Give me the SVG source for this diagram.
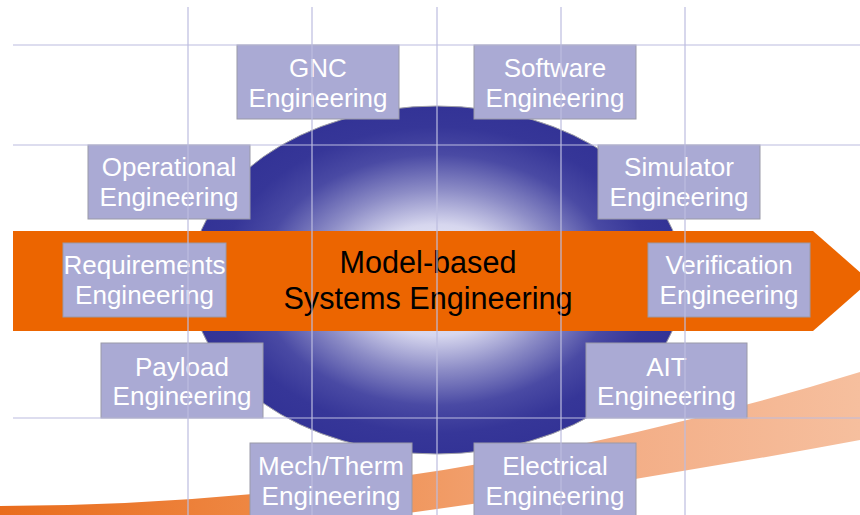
<svg xmlns="http://www.w3.org/2000/svg" width="860" height="515" viewBox="0 0 860 515">
<style>
.box rect{fill:#aaaad4;stroke:#9a9aa8;stroke-width:1}
.box text{fill:#ffffff;font-family:"Liberation Sans",Arial,sans-serif;font-size:26px;text-anchor:middle}
.grid line{stroke:#bcbce0;stroke-width:1.2}
.center{fill:#000000;font-family:"Liberation Sans",Arial,sans-serif;font-size:30.6px;text-anchor:middle}
</style>
<defs>
<radialGradient id="sph" cx="0.5" cy="0.5" r="0.5">
<stop offset="0" stop-color="#ffffff"/>
<stop offset="0.32" stop-color="#d6d6ee"/>
<stop offset="0.52" stop-color="#8c8cc6"/>
<stop offset="0.72" stop-color="#4a4aa4"/>
<stop offset="0.88" stop-color="#363698"/>
<stop offset="1" stop-color="#333396"/>
</radialGradient>
<linearGradient id="sw" x1="0" y1="0" x2="1" y2="0">
<stop offset="0" stop-color="#e96c1c"/>
<stop offset="0.35" stop-color="#ef8c4a"/>
<stop offset="0.7" stop-color="#f3ac84"/>
<stop offset="1" stop-color="#f6bf9e"/>
</linearGradient>
</defs>
<rect x="0" y="0" width="860" height="515" fill="#ffffff"/>
<g id="swoosh">
<path d="M0,506 Q430,505 860,372 L860,440 Q430,520 0,560 Z" fill="url(#sw)"/>
</g>
<g id="sphere">
<ellipse cx="437" cy="280" rx="246" ry="174" fill="url(#sph)" stroke="#a0a0a8" stroke-width="1"/>
</g>
<g id="arrow">
<path d="M13,231 L813,231 L870,281 L813,331 L13,331 Z" fill="#ec6500"/>
</g>
<g id="mbse">
<text class="center" x="428" y="273">Model-based</text>
<text class="center" x="428" y="309">Systems Engineering</text>
</g>
<g id="gnc" class="box"><rect x="237" y="45" width="162" height="74"/><text x="318" y="77">GNC</text><text x="318" y="107">Engineering</text></g>
<g id="software" class="box"><rect x="474" y="45" width="162" height="74"/><text x="555" y="77">Software</text><text x="555" y="107">Engineering</text></g>
<g id="operational" class="box"><rect x="88" y="145" width="162" height="74"/><text x="169" y="176">Operational</text><text x="169" y="206">Engineering</text></g>
<g id="simulator" class="box"><rect x="598" y="145" width="162" height="74"/><text x="679" y="176">Simulator</text><text x="679" y="206">Engineering</text></g>
<g id="requirements" class="box"><rect x="63" y="243" width="163" height="74"/><text x="144.5" y="274">Requirements</text><text x="144.5" y="304">Engineering</text></g>
<g id="verification" class="box"><rect x="648" y="243" width="162" height="74"/><text x="729" y="274">Verification</text><text x="729" y="304">Engineering</text></g>
<g id="payload" class="box"><rect x="101" y="343" width="162" height="75"/><text x="182" y="376">Payload</text><text x="182" y="405">Engineering</text></g>
<g id="ait" class="box"><rect x="586" y="343" width="161" height="75"/><text x="666.5" y="376">AIT</text><text x="666.5" y="405">Engineering</text></g>
<g id="mechtherm" class="box"><rect x="250" y="443" width="162" height="76"/><text x="331" y="475">Mech/Therm</text><text x="331" y="505">Engineering</text></g>
<g id="electrical" class="box"><rect x="474" y="443" width="162" height="76"/><text x="555" y="475">Electrical</text><text x="555" y="505">Engineering</text></g>
<g id="grid" class="grid">
<line x1="188" y1="7" x2="188" y2="515"/>
<line x1="312" y1="7" x2="312" y2="515"/>
<line x1="437" y1="7" x2="437" y2="515"/>
<line x1="561" y1="7" x2="561" y2="515"/>
<line x1="685" y1="7" x2="685" y2="515"/>
<line x1="13" y1="45" x2="860" y2="45"/>
<line x1="13" y1="145" x2="860" y2="145"/>
<line x1="13" y1="418" x2="860" y2="418"/>
</g>
</svg>
